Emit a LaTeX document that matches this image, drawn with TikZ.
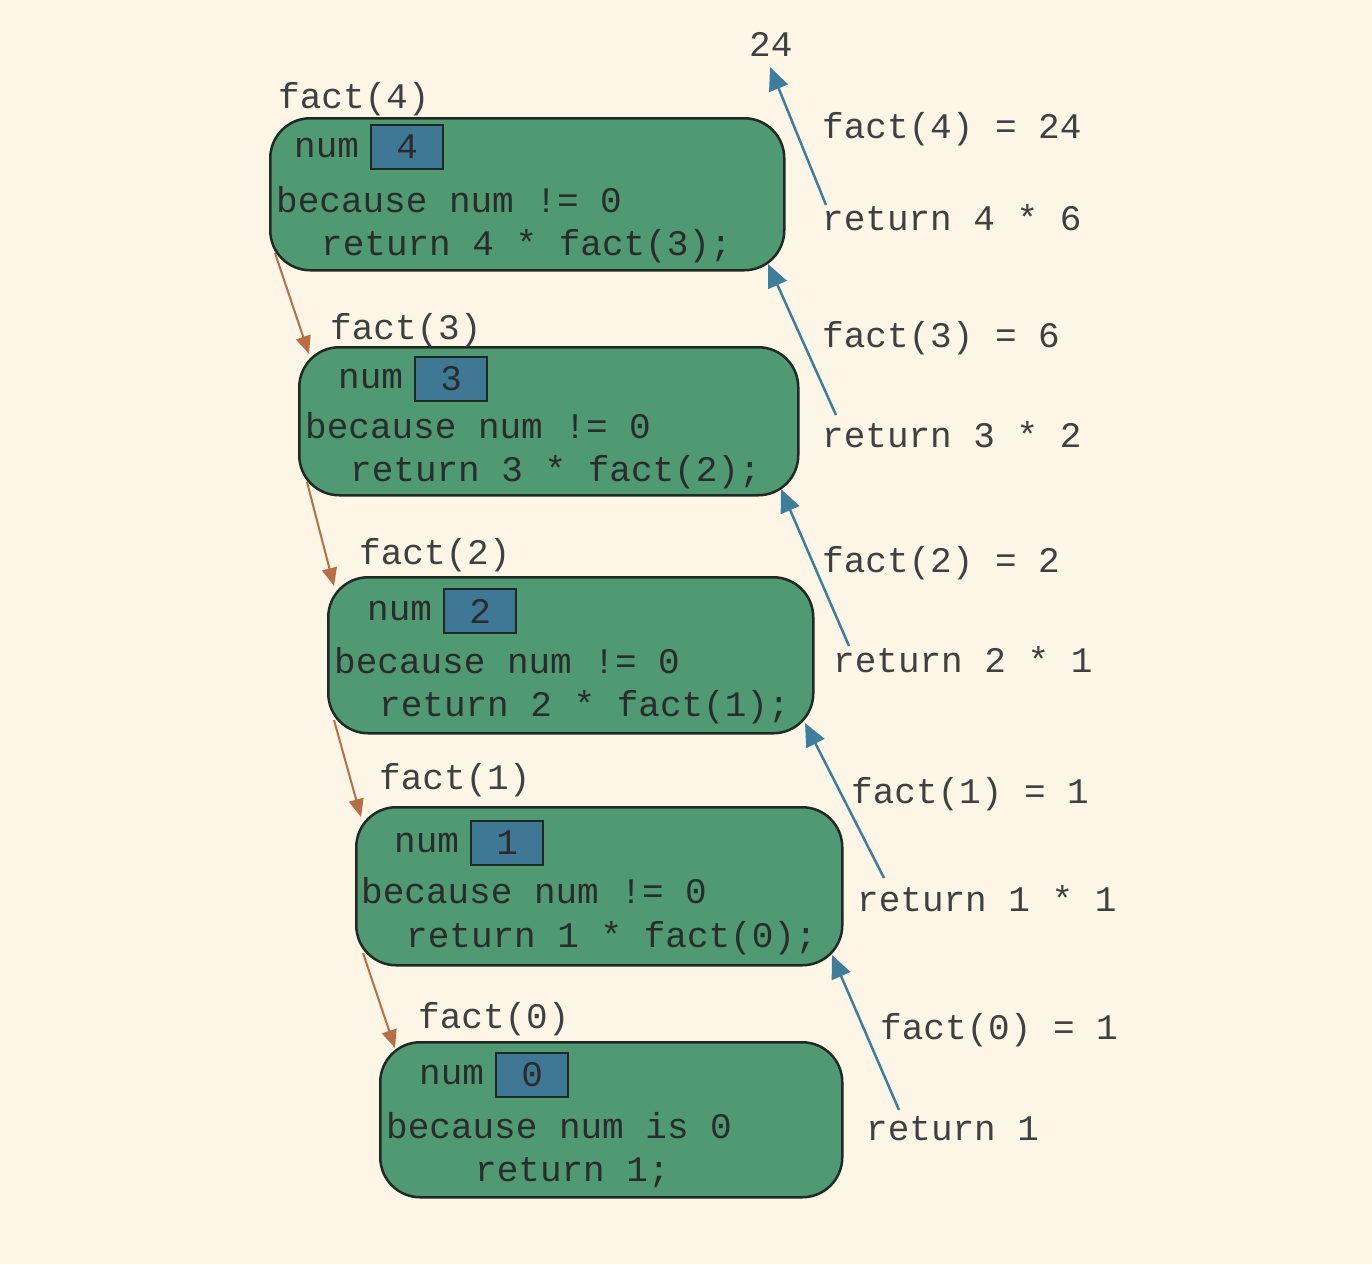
\documentclass[tikz,border=0pt]{standalone}
\usepackage{fontspec}
\setmonofont{Liberation Mono}
\usetikzlibrary{arrows.meta}
\definecolor{bgc}{HTML}{FDF5E6}
\definecolor{greenc}{HTML}{4F9A72}
\definecolor{numc}{HTML}{3E7894}
\definecolor{txtc}{HTML}{2B2B2B}
\definecolor{bluec}{HTML}{3D7E9C}
\definecolor{brownc}{HTML}{B86E45}
\definecolor{edgec}{HTML}{1E2A22}
\tikzset{
  frame/.style={draw=edgec, line width=2.5pt, fill=greenc, rounded corners=40pt, anchor=north west, inner sep=0pt, minimum width=#1},
  numbox/.style={draw=edgec, line width=2.2pt, fill=numc, anchor=north west, inner sep=0pt, minimum width=72pt, minimum height=44pt, text=txtc, font=\ttfamily\fontsize{36}{36}\selectfont},
  code/.style={anchor=base west, inner sep=0pt, text=txtc, font=\ttfamily\fontsize{36}{36}\selectfont},
  lab/.style={anchor=base west, inner sep=0pt, text=txtc!90, font=\ttfamily\fontsize{36}{36}\selectfont},
  retarrow/.style={draw=bluec, line width=2.5pt, -{Triangle[length=23pt,width=20pt]}},
  callarrow/.style={draw=brownc, line width=2pt, -{Triangle[length=18pt,width=15pt]}},
}
\begin{document}
\begin{tikzpicture}[x=1pt,y=-1pt]
\fill[bgc] (0,0) rectangle (1372,1264);
\useasboundingbox (0,0) rectangle (1372,1264);

% frames
\node[frame=514pt, minimum height=152pt] (f4) at (269,117) {};
\node[frame=499pt, minimum height=148pt] (f3) at (298,346) {};
\node[frame=485pt, minimum height=156pt] (f2) at (327,576) {};
\node[frame=486pt, minimum height=158pt] (f1) at (355,806) {};
\node[frame=462pt, minimum height=155pt] (f0) at (379,1041) {};

% frame labels
\node[lab] (l4) at (278,108) {fact(4)};
\node[lab] (l3) at (330,339) {fact(3)};
\node[lab] (l2) at (359,564) {fact(2)};
\node[lab] (l1) at (379,789) {fact(1)};
\node[lab] (l0) at (418,1028) {fact(0)};

% frame 4
\node[code] (n4) at (294,157) {num};
\node[numbox] (v4) at (370,124) {4};
\node[code] (b4) at (276,212) {because num != 0};
\node[code] (r4) at (321,255) {return 4 * fact(3);};
% frame 3
\node[code] (n3) at (338,388) {num};
\node[numbox] (v3) at (414,356) {3};
\node[code] (b3) at (305,438) {because num != 0};
\node[code] (r3) at (350,481) {return 3 * fact(2);};
% frame 2
\node[code] (n2) at (367,620) {num};
\node[numbox] (v2) at (443,588) {2};
\node[code] (b2) at (334,673) {because num != 0};
\node[code] (r2) at (379,716) {return 2 * fact(1);};
% frame 1
\node[code] (n1) at (394,852) {num};
\node[numbox] (v1) at (470,820) {1};
\node[code] (b1) at (361,903) {because num != 0};
\node[code] (r1) at (406,947) {return 1 * fact(0);};
% frame 0
\node[code] (n0) at (419,1084) {num};
\node[numbox] (v0) at (495,1052) {0};
\node[code] (b0) at (386,1138) {because num is 0};
\node[code] (r0) at (475,1181) {return 1;};

% right side labels
\node[lab] (res) at (749,56) {24};
\node[lab] (e4) at (822,138) {fact(4) = 24};
\node[lab] (m4) at (822,230) {return 4 * 6};
\node[lab] (e3) at (822,347) {fact(3) = 6};
\node[lab] (m3) at (822,447) {return 3 * 2};
\node[lab] (e2) at (822,572) {fact(2) = 2};
\node[lab] (m2) at (833,672) {return 2 * 1};
\node[lab] (e1) at (851,803) {fact(1) = 1};
\node[lab] (m1) at (857,911) {return 1 * 1};
\node[lab] (e0) at (880,1039) {fact(0) = 1};
\node[lab] (m0) at (866,1140) {return 1};

% arrow end coordinates
\coordinate (s4) at (826,205); \coordinate (t4) at (770,67);
\coordinate (s3) at (836,415); \coordinate (t3) at (768,264);
\coordinate (s2) at (849,646); \coordinate (t2) at (781,489);
\coordinate (s1) at (884,878); \coordinate (t1) at (805,723);
\coordinate (s0) at (899,1110); \coordinate (t0) at (832,955);

\draw[retarrow] (s4) -- (t4);
\draw[retarrow] (s3) -- (t3);
\draw[retarrow] (s2) -- (t2);
\draw[retarrow] (s1) -- (t1);
\draw[retarrow] (s0) -- (t0);

\coordinate (c4) at (275,253); \coordinate (d4) at (309,354);
\coordinate (c3) at (307,482); \coordinate (d3) at (334,586);
\coordinate (c2) at (334,720); \coordinate (d2) at (361,817);
\coordinate (c1) at (363,953); \coordinate (d1) at (395,1048);

\draw[callarrow] (c4) -- (d4);
\draw[callarrow] (c3) -- (d3);
\draw[callarrow] (c2) -- (d2);
\draw[callarrow] (c1) -- (d1);
\end{tikzpicture}
\end{document}
